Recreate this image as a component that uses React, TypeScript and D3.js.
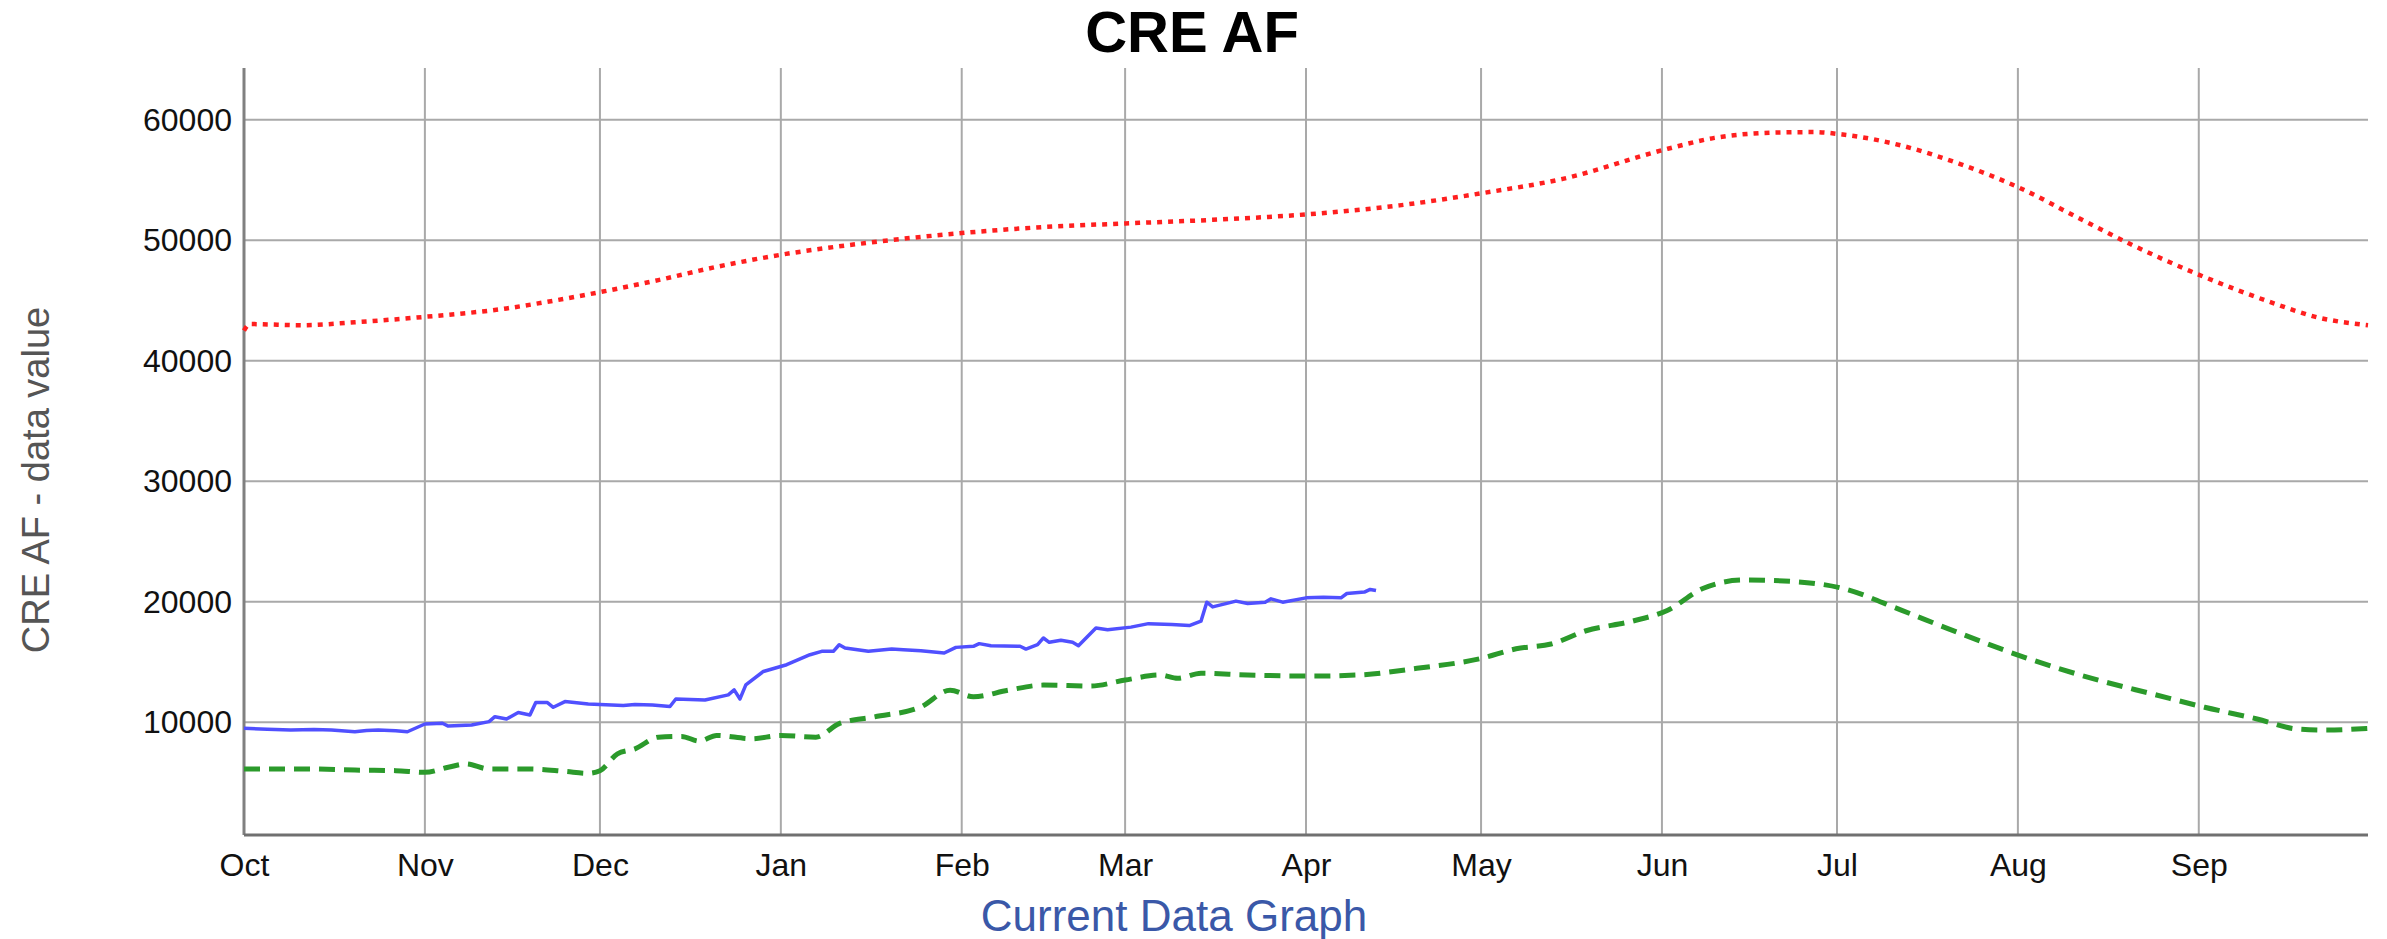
import React, { useEffect, useRef } from "react";
import * as d3 from "d3";

const width = 2387;
const height = 939;
const margin = { top: 68, right: 19, bottom: 104, left: 244 };

// water year shown on the x axis
const yearStart = new Date(2022, 9, 1);
const yearEnd = new Date(2022, 9, 1 + 364);
const monthLabels = ["Oct", "Nov", "Dec", "Jan", "Feb", "Mar", "Apr", "May", "Jun", "Jul", "Aug", "Sep"];
const yTicks = [10000, 20000, 30000, 40000, 50000, 60000];
const yDomain = [650, 64300];

// [day of water year, value]
const maxSeries = [
  [0, 42500], [1, 43050], [10, 42950], [19, 43200], [31, 43650], [45, 44350], [52, 44900],
  [61, 45700], [71, 46700], [81, 47800], [92, 48800], [107, 49800], [123, 50600], [137, 51100],
  [151, 51400], [166, 51700], [182, 52150], [198, 52900], [212, 53900], [226, 55100], [244, 57600],
  [252, 58500], [263, 58950], [269, 58980], [274, 58780], [284, 57870], [294, 56350], [304, 54420],
  [315, 51700], [323, 49750], [336, 46950], [348, 44750], [355, 43650], [364, 42950],
];

const minSeries = [
  [0, 6130], [11, 6130], [19, 6040], [26, 5990], [31, 5850], [35, 6270], [38, 6550], [42, 6130],
  [49, 6130], [55, 5930], [59, 5770], [61, 5990], [64, 7380], [67, 7800], [71, 8770], [75, 8830],
  [78, 8440], [81, 8910], [87, 8640], [92, 8910], [98, 8770], [102, 9890], [108, 10450], [116, 11280],
  [121, 12670], [125, 12120], [131, 12670], [137, 13090], [145, 13010], [151, 13510], [157, 13930],
  [160, 13650], [164, 14070], [172, 13930], [183, 13840], [191, 13930], [201, 14480], [212, 15300],
  [218, 16100], [224, 16500], [230, 17600], [238, 18400], [244, 19300], [250, 21110], [257, 21810],
  [266, 21670], [274, 21110], [284, 19310], [292, 17780], [305, 15420], [318, 13470], [327, 12360],
  [336, 11250], [345, 10280], [352, 9440], [357, 9360], [364, 9500],
];

const currentSeries = [
  [0, 9500], [4, 9420], [8, 9360], [12, 9400], [15, 9360], [19, 9220], [21, 9330], [23, 9360],
  [26, 9300], [28, 9220], [31, 9860], [34, 9920], [35, 9690], [39, 9780], [42, 10060], [43, 10470],
  [45, 10280], [47, 10810], [49, 10610], [50, 11640], [52, 11640], [53, 11250], [55, 11720], [59, 11530],
  [62, 11450], [65, 11390], [67, 11480], [70, 11440], [73, 11310], [74, 11940], [79, 11860], [83, 12280],
  [84, 12690], [85, 11940], [86, 13110], [89, 14220], [93, 14780], [97, 15610], [99, 15890], [101, 15890],
  [102, 16440], [103, 16170], [107, 15890], [111, 16080], [113, 16030], [116, 15940], [120, 15750],
  [122, 16220], [125, 16310], [126, 16530], [128, 16360], [133, 16310], [134, 16080], [136, 16440],
  [137, 17000], [138, 16640], [140, 16810], [142, 16640], [143, 16360], [146, 17830], [148, 17690],
  [152, 17900], [155, 18190], [159, 18110], [162, 18030], [164, 18390], [165, 19970], [166, 19580],
  [170, 20060], [172, 19860], [175, 19970], [176, 20250], [178, 19970], [182, 20330], [185, 20390],
  [188, 20330], [189, 20690], [192, 20810], [193, 21030], [194, 20940],
];

const font = "'Liberation Sans', Arial, sans-serif";

export default function App() {
  const chartRef = useRef<SVGSVGElement>(null);

  useEffect(() => {
    const svg = d3.select(chartRef.current);
    svg.selectAll("*").remove();

    const x = d3
      .scaleTime()
      .domain([yearStart, yearEnd])
      .range([margin.left, width - margin.right]);

    const y = d3
      .scaleLinear()
      .domain(yDomain)
      .range([height - margin.bottom, margin.top]);

    const months = d3.timeMonth.range(yearStart, yearEnd);

    // grid
    const grid = svg.append("g");
    grid
      .selectAll("line.h")
      .data(yTicks)
      .enter()
      .append("line")
      .attr("x1", margin.left)
      .attr("x2", width - margin.right)
      .attr("y1", (d) => y(d))
      .attr("y2", (d) => y(d))
      .attr("stroke", "#a9a9a9")
      .attr("stroke-width", 2);
    grid
      .selectAll("line.v")
      .data(months.slice(1))
      .enter()
      .append("line")
      .attr("x1", (d) => x(d))
      .attr("x2", (d) => x(d))
      .attr("y1", margin.top)
      .attr("y2", height - margin.bottom)
      .attr("stroke", "#a9a9a9")
      .attr("stroke-width", 2);

    // axes
    const yAxis = svg
      .append("g")
      .attr("transform", `translate(${margin.left},0)`)
      .call(d3.axisLeft(y).tickValues(yTicks).tickSize(0).tickPadding(12).tickFormat((d) => String(d)));
    yAxis.select(".domain").remove();
    yAxis
      .selectAll("text")
      .attr("font-family", font)
      .attr("font-size", 32)
      .attr("fill", "#111");

    const xAxis = svg
      .append("g")
      .attr("transform", `translate(0,${height - margin.bottom})`)
      .call(
        d3
          .axisBottom(x)
          .tickValues(months)
          .tickSize(0)
          .tickPadding(18)
          .tickFormat((d, i) => monthLabels[i])
      );
    xAxis.select(".domain").remove();
    xAxis
      .selectAll("text")
      .attr("font-family", font)
      .attr("font-size", 32)
      .attr("fill", "#111");

    svg
      .append("line")
      .attr("x1", margin.left)
      .attr("x2", margin.left)
      .attr("y1", margin.top)
      .attr("y2", height - margin.bottom)
      .attr("stroke", "#808080")
      .attr("stroke-width", 3);
    svg
      .append("line")
      .attr("x1", margin.left)
      .attr("x2", width - margin.right)
      .attr("y1", height - margin.bottom)
      .attr("y2", height - margin.bottom)
      .attr("stroke", "#707070")
      .attr("stroke-width", 3);

    const toPoint = (d) => [x(d3.timeDay.offset(yearStart, d[0])), y(d[1])];

    const smooth = d3.line().curve(d3.curveMonotoneX);
    const straight = d3.line();

    svg
      .append("path")
      .attr("d", smooth(maxSeries.map(toPoint)))
      .attr("fill", "none")
      .attr("stroke", "#ff1f1f")
      .attr("stroke-width", 4.5)
      .attr("stroke-dasharray", "5,6");

    svg
      .append("path")
      .attr("d", smooth(minSeries.map(toPoint)))
      .attr("fill", "none")
      .attr("stroke", "#2b9a2b")
      .attr("stroke-width", 5)
      .attr("stroke-dasharray", "16,9");

    svg
      .append("path")
      .attr("d", straight(currentSeries.map(toPoint)))
      .attr("fill", "none")
      .attr("stroke", "#5050ff")
      .attr("stroke-width", 3.5)
      .attr("stroke-linejoin", "round");

    // titles
    svg
      .append("text")
      .attr("x", 1192)
      .attr("y", 52)
      .attr("text-anchor", "middle")
      .attr("font-family", font)
      .attr("font-weight", "bold")
      .attr("font-size", 58)
      .attr("fill", "#000")
      .text("CRE AF");

    svg
      .append("text")
      .attr("transform", `translate(49,480) rotate(-90)`)
      .attr("text-anchor", "middle")
      .attr("font-family", font)
      .attr("font-size", 38)
      .attr("fill", "#555")
      .text("CRE AF - data value");

    svg
      .append("text")
      .attr("x", 1174)
      .attr("y", 931)
      .attr("text-anchor", "middle")
      .attr("font-family", font)
      .attr("font-size", 44)
      .attr("fill", "#3a58a8")
      .text("Current Data Graph");
  }, []);

  return (
    <div>
      <style>{`body{margin:0;}`}</style>
      <svg width={width} height={height} ref={chartRef} style={{ display: "block", background: "#fff" }} />
    </div>
  );
}
